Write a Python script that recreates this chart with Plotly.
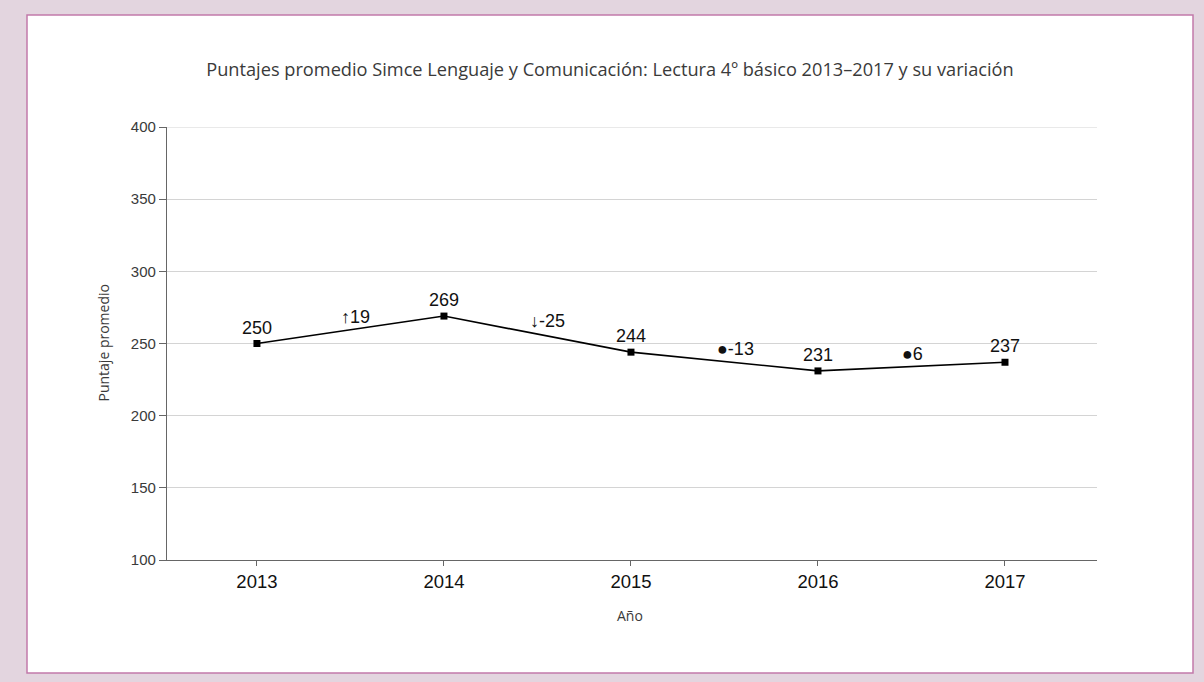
import plotly.graph_objects as go

years = [2013, 2014, 2015, 2016, 2017]
scores = [250, 269, 244, 231, 237]
var_values = [19, -25, -13, 6]
var_symbols = ["↑", "↓", "●", "●"]
y_ticks = [100, 150, 200, 250, 300, 350, 400]

W, H = 1204, 682
L, R, T, B = 167, 1097, 127, 560  # plot area in pixels

def px(x):
    return (x - L) / (R - L)

def py(y):
    return (B - y) / (B - T)

fig = go.Figure()

fig.add_trace(go.Scatter(
    x=years, y=scores,
    mode="lines+markers+text",
    line=dict(color="#000000", width=1.6),
    marker=dict(symbol="square", size=7, color="#000000"),
    text=[str(v) for v in scores],
    textposition="top center",
    textfont=dict(family="Liberation Sans, Arial", size=18, color="#111111"),
    hoverinfo="skip",
    showlegend=False,
    cliponaxis=False,
))

annotations = []
label_xshift = [5, 10, 11, 1]
for i, (v, s) in enumerate(zip(var_values, var_symbols)):
    xm = (years[i] + years[i + 1]) / 2
    ym = (scores[i] + scores[i + 1]) / 2
    annotations.append(dict(
        x=xm, y=ym, xref="x", yref="y", text=f"{s}{v}", showarrow=False,
        yshift=13, xshift=label_xshift[i],
        font=dict(family="Liberation Sans, Arial", size=18, color="#111111"),
    ))

annotations.append(dict(
    x=px(103), y=0.5, xref="paper", yref="paper", text="Puntaje promedio",
    textangle=-90, showarrow=False, xanchor="center", yanchor="middle",
    font=dict(family="Open Sans", size=14, color="#3a3a3a"),
))
annotations.append(dict(
    x=px(630), y=py(615), xref="paper", yref="paper", text="Año",
    showarrow=False, xanchor="center", yanchor="middle",
    font=dict(family="Open Sans", size=14, color="#3a3a3a"),
))

shapes = [
    dict(
        type="rect", xref="paper", yref="paper",
        x0=px(27), x1=px(1193), y0=py(673), y1=py(15),
        fillcolor="#ffffff", line=dict(color="#c27aab", width=1.5), layer="below",
    ),
    dict(
        type="line", xref="paper", yref="y",
        x0=0, x1=1, y0=max(y_ticks), y1=max(y_ticks),
        line=dict(color="#d4d4d4", width=1), layer="below",
    ),
]

fig.update_layout(
    width=W, height=H,
    margin=dict(l=L, r=W - R, t=T, b=H - B, pad=0),
    paper_bgcolor="#e3d5df",
    plot_bgcolor="rgba(0,0,0,0)",
    title=dict(
        text="Puntajes promedio Simce Lenguaje y Comunicación: Lectura 4º básico 2013–2017 y su variación",
        x=px(610), xanchor="center", xref="paper",
        y=1 - 70 / H, yanchor="middle",
        font=dict(family="Open Sans", size=18.2, color="#3a3a3a"),
    ),
    xaxis=dict(
        range=[2012.519, 2017.492],
        tickvals=years, ticktext=[str(y) for y in years],
        showgrid=False, zeroline=False,
        showline=True, linecolor="#666666", linewidth=1.2,
        ticks="outside", ticklen=5, tickcolor="#666666",
        tickfont=dict(family="Liberation Sans, Arial", size=18.5, color="#111111"),
    ),
    yaxis=dict(
        range=[100, 400],
        tickvals=y_ticks,
        showgrid=True, gridcolor="#d4d4d4", gridwidth=1,
        zeroline=False,
        showline=True, linecolor="#666666", linewidth=1.2,
        ticks="outside", ticklen=7, tickcolor="#666666",
        tickfont=dict(family="Liberation Sans, Arial", size=15, color="#3a3a3a"),
    ),
    annotations=annotations,
    shapes=shapes,
)

fig.write_html(
    "out.html",
    config={"displayModeBar": False},
    post_script="document.body.style.margin='0';document.body.style.overflow='hidden';",
)
